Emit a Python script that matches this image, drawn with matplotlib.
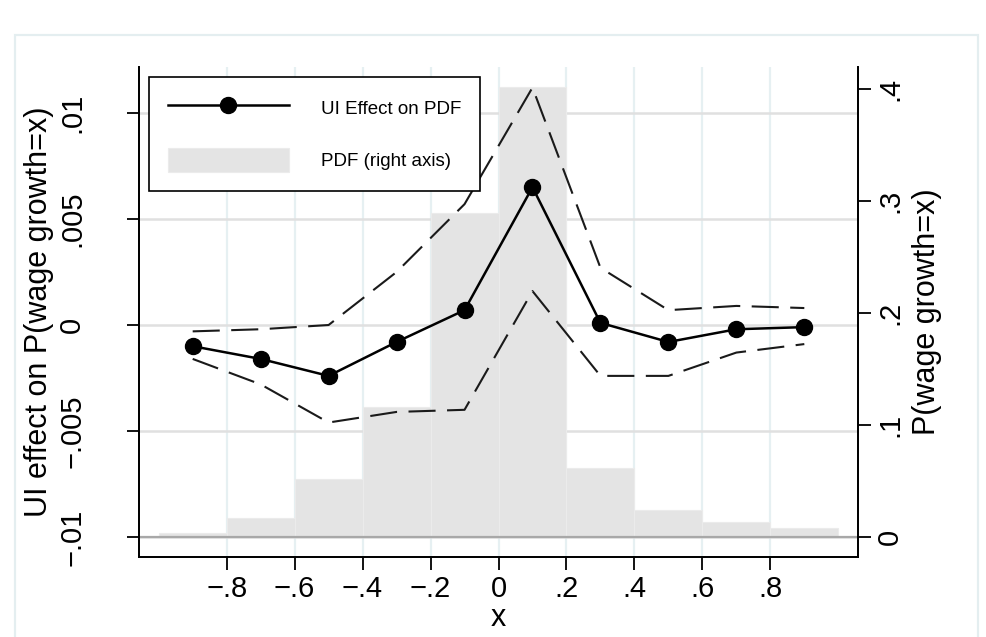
import matplotlib
matplotlib.use("Agg")
import matplotlib.pyplot as plt
from matplotlib.patches import Rectangle
import numpy as np

plt.rcParams['font.family'] = ['Liberation Sans', 'DejaVu Sans']

# bin midpoints of wage growth
x = [-0.9, -0.7, -0.5, -0.3, -0.1, 0.1, 0.3, 0.5, 0.7, 0.9]

# UI effect on the pdf and its confidence band (left axis)
effect = [-0.0010, -0.0016, -0.0024, -0.0008, 0.0007, 0.0065, 0.0001, -0.0008, -0.0002, -0.0001]
ci_hi = [-0.0003, -0.0002, 0.0000, 0.0025, 0.0057, 0.0112, 0.0027, 0.0007, 0.0009, 0.0008]
ci_lo = [-0.0016, -0.0028, -0.0046, -0.0041, -0.0040, 0.0016, -0.0024, -0.0024, -0.0013, -0.0009]

# pdf of wage growth (right axis)
pdf = [0.004, 0.017, 0.052, 0.116, 0.289, 0.402, 0.062, 0.024, 0.013, 0.008]

xticks = [-0.8, -0.6, -0.4, -0.2, 0, 0.2, 0.4, 0.6, 0.8]
xticklabels = ['\u2212.8', '\u2212.6', '\u2212.4', '\u2212.2', '0', '.2', '.4', '.6', '.8']
lticks = [-0.01, -0.005, 0, 0.005, 0.01]
lticklabels = ['\u2212.01', '\u2212.005', '0', '.005', '.01']
rticks = [0, 0.1, 0.2, 0.3, 0.4]
rticklabels = ['0', '.1', '.2', '.3', '.4']

W, H = 987, 637
fig = plt.figure(figsize=(W / 100, H / 100), dpi=100)
fig.patch.set_facecolor('white')
fig.add_artist(Rectangle((15 / W, -0.1), (978 - 15) / W, (H - 35) / H + 0.1,
                         transform=fig.transFigure, fill=False,
                         edgecolor='#e4eef0', lw=1.6))

l, r, t, b = 139, 858, 67, 557
ax2 = fig.add_axes([l / W, 1 - b / H, (r - l) / W, (b - t) / H])
ax = ax2.twinx()
ax.set_zorder(ax2.get_zorder() + 1)
ax.patch.set_visible(False)

# grid lines live on the back axis so the bars cover them
ax2.set_xlim(-1.058, 1.058)
ax2.set_ylim(-0.01786, 0.4196)
ax.set_ylim(-0.010943, 0.012170)
for xv in xticks:
    ax2.axvline(xv, color='#e6f0f2', lw=1.6, zorder=0)
lo2, hi2 = ax2.get_ylim()
lo1, hi1 = ax.get_ylim()
for yv in lticks:
    ax2.axhline(lo2 + (yv - lo1) / (hi1 - lo1) * (hi2 - lo2), color='#e0e0e0', lw=1.8, zorder=0)

bars = ax2.bar(x, pdf, width=0.2, color='#e4e4e4', edgecolor='#ebebeb', lw=0.8,
               zorder=1, label='PDF (right axis)')
ax2.axhline(0, color='#a8a8a8', lw=1.6, zorder=2)

ax.plot(x, ci_hi, color='#1a1a1a', lw=1.5, dashes=(13, 5.5))
ax.plot(x, ci_lo, color='#1a1a1a', lw=1.5, dashes=(13, 5.5))
line, = ax.plot(x, effect, color='black', lw=1.8, marker='o', ms=11.5,
                label='UI Effect on PDF')

ax.set_xticks(xticks)
ax2.set_xticks(xticks)
ax2.set_xticklabels(xticklabels, fontsize=21)
ax.set_yticks(lticks)
ax2.set_yticks(rticks)

# left scale on the left, pdf scale on the right
ax.yaxis.tick_left()
ax.yaxis.set_label_position('left')
ax2.yaxis.tick_right()
ax2.yaxis.set_label_position('right')
ax.set_yticklabels(lticklabels, fontsize=21, rotation=90, va='center')
ax2.set_yticklabels(rticklabels, fontsize=21, rotation=90, va='center')
ax.set_ylabel('UI effect on P(wage growth=x)', fontsize=22, labelpad=3)
ax2.set_ylabel('P(wage growth=x)', fontsize=22, labelpad=6)
ax2.set_xlabel('x', fontsize=22, labelpad=0)

for a in (ax, ax2):
    a.spines['top'].set_visible(False)
    for s in ('left', 'right', 'bottom'):
        a.spines[s].set_linewidth(1.3)
    a.tick_params(length=9, width=1.3, direction='out')
ax.tick_params(axis='y', pad=29)
ax2.tick_params(axis='y', pad=4)
ax2.tick_params(axis='x', pad=4)

leg = ax.legend([line, bars], ['UI Effect on PDF', 'PDF (right axis)'],
                loc='upper left', bbox_to_anchor=(149 / W, 1 - 77 / H),
                bbox_transform=fig.transFigure, fontsize=13.5,
                handlelength=6.45, handleheight=1.6, handletextpad=1.7,
                labelspacing=1.5, borderpad=1.0, borderaxespad=0,
                fancybox=False, edgecolor='black', framealpha=1)
leg.get_frame().set_linewidth(1.2)

fig.savefig('out.png', dpi=100)
